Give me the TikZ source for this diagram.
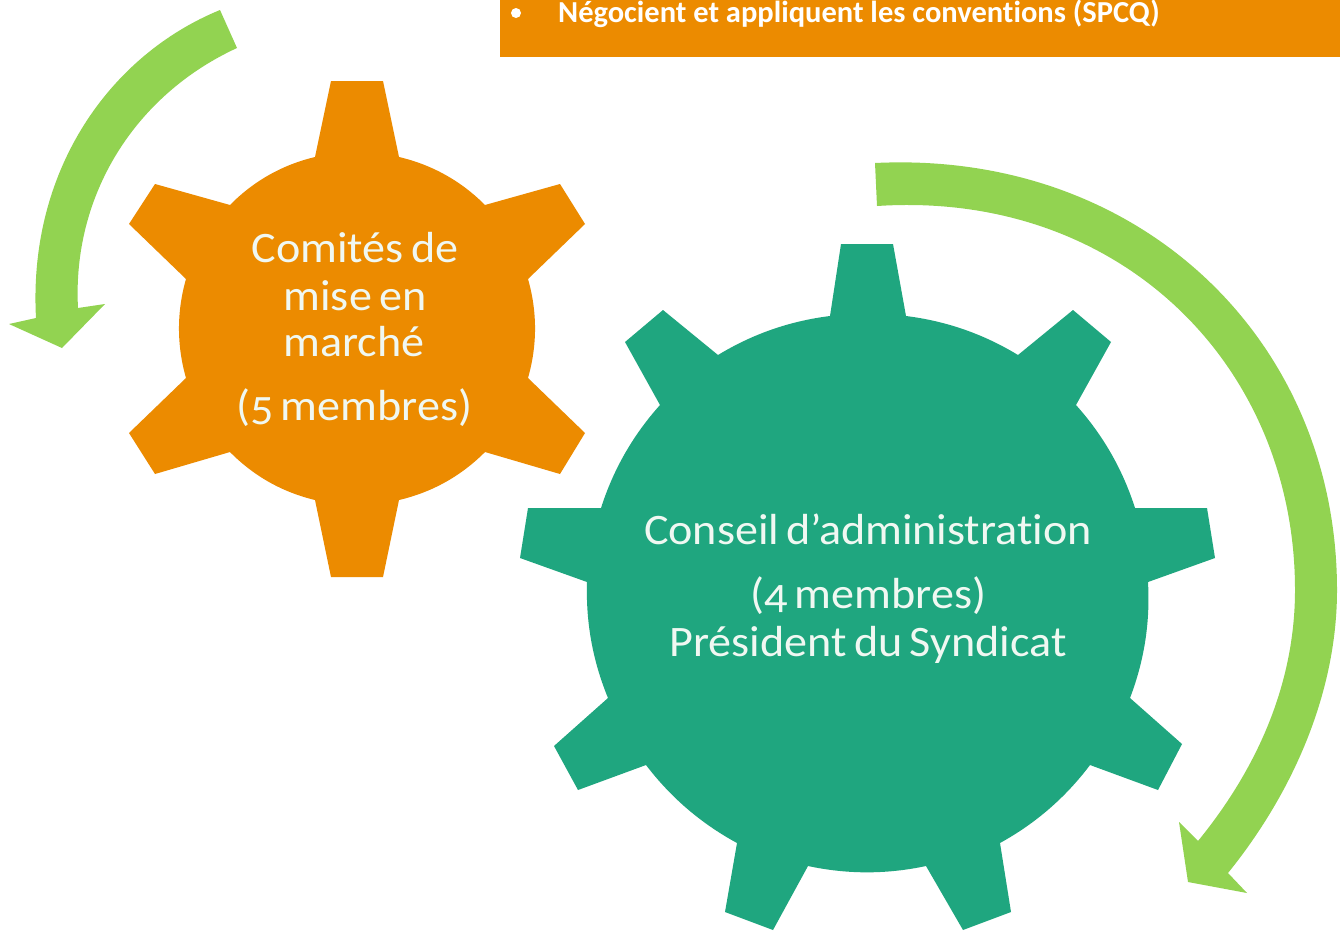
\documentclass[tikz,border=0pt]{standalone}
\usepackage{fontspec}
\setmainfont[Numbers=OldStyle,Ligatures=NoCommon]{Carlito}
\newfontfamily\labelfont[Numbers=OldStyle,Ligatures=NoCommon,FakeStretch=1.06,WordSpace=0.7]{Carlito}
\definecolor{gearorange}{HTML}{EC8B00}
\definecolor{geargreen}{HTML}{1FA67F}
\definecolor{arrowgreen}{HTML}{92D351}
\definecolor{softwhite}{HTML}{F0F8F2}
\tikzset{
  gearshape/.style={draw=none,line join=miter},
  arcbend/.style={bend left=#1,looseness=0.88},
  label/.style={text=softwhite,font=\labelfont\fontsize{43.5}{44}\selectfont,align=center,inner sep=0pt,anchor=base},
}
\begin{document}
\begin{tikzpicture}[x=1pt,y=-1pt]
\useasboundingbox (0,0) rectangle (1340,930);
\fill[white] (0,0) rectangle (1340,930);
% banner
\fill[gearorange] (500,0) rectangle (1340,57);
\fill[white] (516,13) circle (5);
\node[anchor=base west,inner sep=0pt,text=white,font=\fontsize{30.5}{31}\selectfont\bfseries] (banner) at (558,22) {Négocient et appliquent les conventions (SPCQ)};
% left arrow
\fill[arrowgreen] (220,10) .. controls (110,55) and (28,170) .. (36,318)
  -- (9,324) -- (62,348) -- (105,304) -- (78,308)
  .. controls (72,195) and (135,95) .. (237,48) -- cycle;
% right arrow
\fill[arrowgreen] (875,163) .. controls (1140,150) and (1337,340) .. (1337,590)
  .. controls (1337,690) and (1295,790) .. (1228,873)
  -- (1247,893) -- (1188,882) -- (1179,822) -- (1198,841)
  .. controls (1260,765) and (1295,680) .. (1295,590)
  .. controls (1295,365) and (1120,190) .. (877,206) -- cycle;
% orange gear
\fill[gearorange,gearshape]
  (331,81) -- (383,81) -- (399,157) to[arcbend=16] (485,205)
  -- (560,184) -- (585,224) -- (528,279) to[arcbend=16] (528,378)
  -- (585,433) -- (560,474) -- (485,452) to[arcbend=16] (399,500)
  -- (383,577) -- (331,577) -- (315,500) to[arcbend=16] (230,452)
  -- (155,474) -- (129,433) -- (186,378) to[arcbend=16] (186,279)
  -- (129,224) -- (155,184) -- (230,205) to[arcbend=16] (315,157) -- cycle;
% green gear
\fill[geargreen,gearshape]
  (841,244) -- (893,244) -- (906,316) to[arcbend=12] (1018,355)
  -- (1073,310) -- (1111,342) -- (1076,405) to[arcbend=12] (1135,508)
  -- (1207,508) -- (1215,558) -- (1148,582) to[arcbend=12] (1130,698)
  -- (1182,744) -- (1158,790) -- (1090,765) to[arcbend=12] (1000,843)
  -- (1011,912) -- (963,930) -- (926,866) to[arcbend=12] (808,866)
  -- (773,930) -- (725,912) -- (737,843) to[arcbend=12] (646,765)
  -- (578,790) -- (554,746) -- (608,698) to[arcbend=12] (587,582)
  -- (520,558) -- (528,508) -- (601,508) to[arcbend=12] (660,405)
  -- (625,342) -- (663,310) -- (718,355) to[arcbend=12] (830,316) -- cycle;
% labels
\node[label] (c1) at (355,262) {Comités de};
\node[label] (c2) at (355,310) {mise en};
\node[label] (c3) at (354,356) {marché};
\node[label] (c4) at (354,420) {(5 membres)};
\node[label] (g1) at (868,544) {Conseil d’administration};
\node[label] (g2) at (868,608) {(4 membres)};
\node[label] (g3) at (868,656) {Président du Syndicat};
\end{tikzpicture}
\end{document}
